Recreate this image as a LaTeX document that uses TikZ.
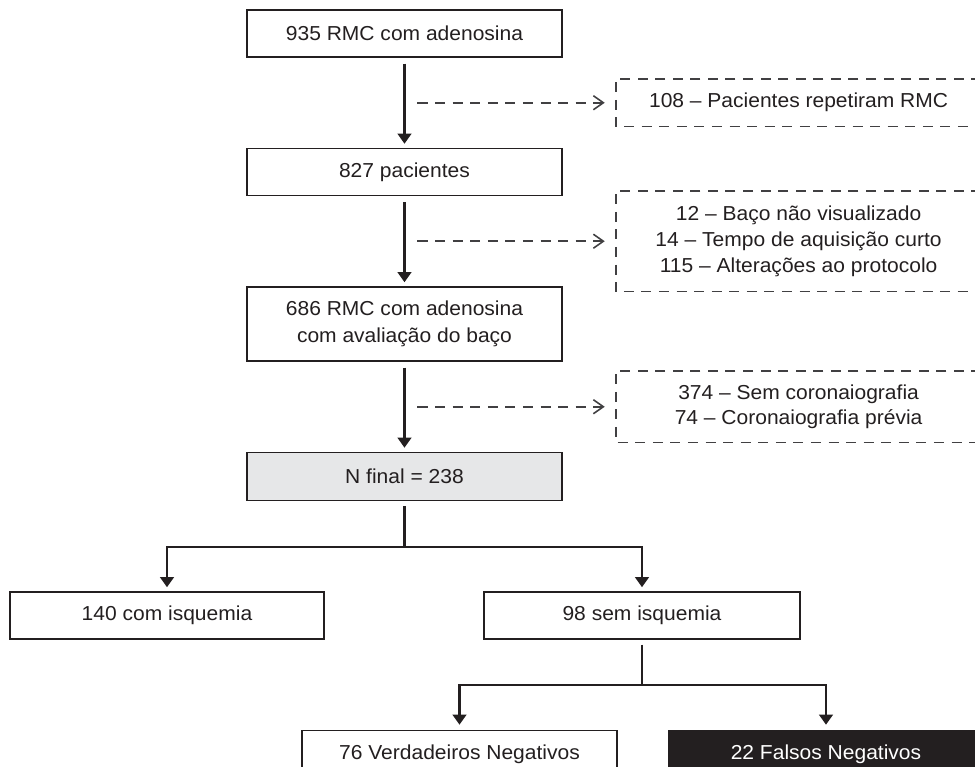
\documentclass[tikz,border=0pt]{standalone}
\usepackage{fontspec}
\setmainfont[FakeStretch=1.04]{Liberation Sans}
\usepackage{xcolor}
\definecolor{ink1}{HTML}{231F20}
\definecolor{gray1}{HTML}{E6E7E8}
\definecolor{dash1}{HTML}{414042}
\usetikzlibrary{arrows.meta, positioning, calc}

\begin{document}
\begin{tikzpicture}[
  node distance = 1.8cm,
  box/.style    = {draw=ink1, fill=white, text=ink1, minimum width=6.3cm,
                   minimum height=0.94cm, font=\fontsize{11.5}{15}\selectfont,
                   align=center, line width=0.85pt, inner sep=4pt},
  final/.style  = {box, fill=gray1},
  dark/.style   = {box, fill=ink1, text=white},
  excl/.style   = {text=ink1, minimum width=7.3cm, anchor=west, inner sep=0pt,
                   font=\fontsize{11.5}{14.6}\selectfont, align=center},
  arr/.style    = {-{Triangle[length=0.2cm, width=0.27cm]}, line width=1.3pt, color=ink1},
  lin/.style    = {line width=1.3pt, color=ink1},
  darr/.style   = {-{Straight Barb[length=0.2cm, width=0.28cm]}, line width=0.9pt,
                   color=dash1, dash pattern=on 5.7pt off 4.3pt},
  dbox/.style   = {line width=0.9pt, color=dash1, dash pattern=on 5.7pt off 4.3pt}
]
\useasboundingbox (-8.09,0.67) rectangle (11.41,-14.67);

% ── MAIN COLUMN ─────────────────────────────────────────
\node[box] (b1) at (0,0) {935 RMC com adenosina};
\node[box, below=of b1] (b2) {827 pacientes};
\node[box, below=of b2, minimum height=1.48cm] (b3) {686 RMC com adenosina\\com avaliação do baço};
\node[final, below=of b3, minimum height=0.96cm] (b4) {N final = 238};

% ── EXCLUSIONS ──────────────────────────────────────────
\node[excl, minimum height=0.94cm] (x1) at ($(b1.south east)!0.5!(b2.north east)+(1.06,0)$)
     {108 – Pacientes repetiram RMC};
\node[excl, minimum height=2.0cm] (x2) at ($(b2.south east)!0.5!(b3.north east)+(1.06,0)$)
     {12 – Baço não visualizado\\14 – Tempo de aquisição curto\\115 – Alterações ao protocolo};
\node[excl, minimum height=1.42cm] (x3) at ($(b3.south east)!0.5!(b4.north east)+(1.06,0)$)
     {374 – Sem coronaiografia\\74 – Coronaiografia prévia};

% ── SPLIT ───────────────────────────────────────────────
\node[box, below=of b4, xshift=-4.75cm, minimum width=6.28cm] (b5) {140 com isquemia};
\node[box, below=of b4, xshift=4.75cm, minimum width=6.32cm] (b6) {98 sem isquemia};
\node[box, below=of b6, xshift=-3.65cm] (b7) {76 Verdadeiros Negativos};
\node[dark, below=of b6, xshift=3.68cm] (b8) {22 Falsos Negativos};

% ── ARROWS ──────────────────────────────────────────────
\draw[arr, shorten <=0.12cm, shorten >=0.08cm] (b1) -- (b2);
\draw[arr, shorten <=0.12cm, shorten >=0.08cm] (b2) -- (b3);
\draw[arr, shorten <=0.12cm, shorten >=0.08cm] (b3) -- (b4);

\foreach \n/\m in {x1/b1, x2/b2, x3/b3} {
  \draw[dbox] (\n.north east) -- (\n.north west) -- (\n.south west) -- (\n.south east);
  \draw[darr, shorten <=0.26cm, shorten >=0.22cm] (\m.south |- \n.west) -- (\n.west);
}

\draw[lin] ([yshift=-0.1cm]b4.south) -- ++(0,-0.82) coordinate (j1);
\draw[arr, shorten >=0.08cm] (j1) -| (b5.north);
\draw[arr, shorten >=0.08cm] (j1) -| (b6.north);

\draw[lin] ([yshift=-0.1cm]b6.south) -- ++(0,-0.8) coordinate (j2);
\draw[arr, shorten >=0.1cm] (j2) -| (b7.north);
\draw[arr, shorten >=0.1cm] (j2) -| (b8.north);

\end{tikzpicture}
\end{document}
